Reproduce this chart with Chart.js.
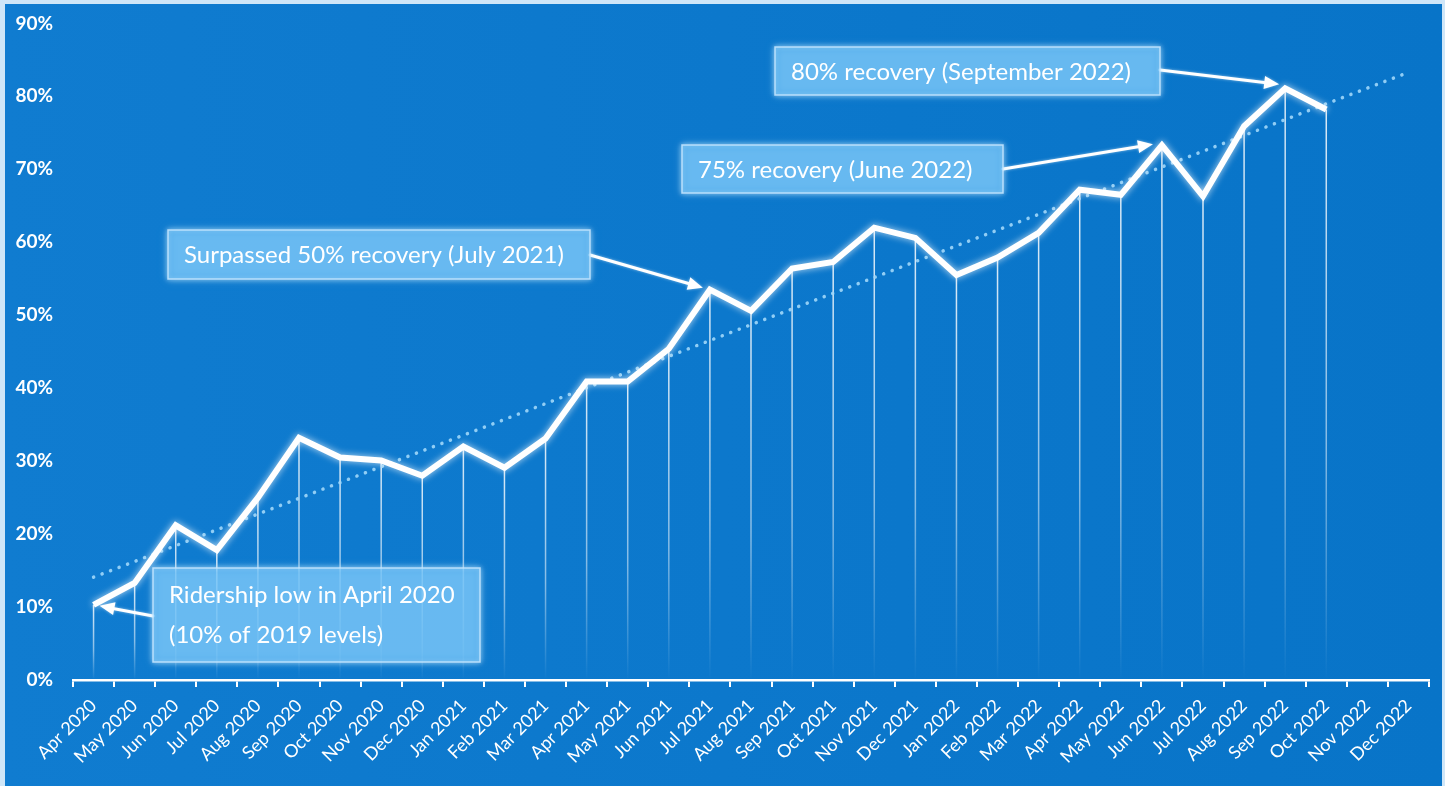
<!DOCTYPE html>
<html><head><meta charset="utf-8">
<script src="https://cdn.jsdelivr.net/npm/chart.js@4"></script>
<style>html,body{margin:0;padding:0;background:#0e7acd;overflow:hidden}</style>
</head><body>
<canvas id="c" width="1445" height="786" style="display:block;width:1445px;height:786px"></canvas>
<script>
// ---- data ----
const categories = ["Apr 2020","May 2020","Jun 2020","Jul 2020","Aug 2020","Sep 2020","Oct 2020","Nov 2020","Dec 2020",
  "Jan 2021","Feb 2021","Mar 2021","Apr 2021","May 2021","Jun 2021","Jul 2021","Aug 2021","Sep 2021","Oct 2021","Nov 2021","Dec 2021",
  "Jan 2022","Feb 2022","Mar 2022","Apr 2022","May 2022","Jun 2022","Jul 2022","Aug 2022","Sep 2022","Oct 2022","Nov 2022","Dec 2022"];
const ridership = [10.3,13.3,21.2,17.8,25.0,33.2,30.5,30.1,28.0,
  32.0,29.1,33.1,40.9,40.9,45.4,53.5,50.6,56.4,57.3,62.0,60.6,
  55.5,57.9,61.3,67.2,66.5,73.3,66.3,75.9,81.1,78.2,null,null];
const trendStart = 14.1;   // trend value read at Apr 2020
const trendEnd = 83.3;     // trend value read at Dec 2022
const trend = categories.map((c,i)=> i===0 ? trendStart : (i===categories.length-1 ? trendEnd : null));
const yTicks = [0,10,20,30,40,50,60,70,80,90];
const notes = [
  {lines:["Ridership low in April 2020","(10% of 2019 levels)"], at:"Apr 2020"},
  {lines:["Surpassed 50% recovery (July 2021)"], at:"Jul 2021"},
  {lines:["75% recovery (June 2022)"], at:"Jun 2022"},
  {lines:["80% recovery (September 2022)"], at:"Sep 2022"}
];
// ---- layout of annotation boxes (styling only) ----
const noteLayout = [
  {x:153,y:568,w:327,h:94, tx:169, ty:[595,635], from:[153,616], tipOff:[6,1]},
  {x:168,y:230,w:422,h:49, tx:184, ty:[255], from:[590,255], tipOff:[-7,-2]},
  {x:682,y:145,w:321,h:48, tx:698, ty:[170], from:[1003,169], tipOff:[-9,-1]},
  {x:775,y:47,w:385,h:48, tx:791, ty:[72], from:[1160,70], tipOff:[-6,-4]}
];
const FONT = 'Lato, "Open Sans", sans-serif';

const bgPlugin = {
  id:'bg',
  beforeDraw(chart){
    const ctx = chart.ctx;
    ctx.save();
    ctx.fillStyle = '#cfe6f8';
    ctx.fillRect(0,0,chart.width,chart.height);
    const g = ctx.createLinearGradient(0,0,chart.width,0);
    g.addColorStop(0,'rgb(16,124,208)');
    g.addColorStop(1,'rgb(8,116,200)');
    ctx.fillStyle = g;
    ctx.fillRect(5,4,chart.width-8,chart.height-4);
    ctx.restore();
  }
};

const dropPlugin = {
  id:'drops',
  beforeDatasetsDraw(chart){
    const ctx = chart.ctx, meta = chart.getDatasetMeta(0), bottom = chart.chartArea.bottom;
    ctx.save();
    meta.data.forEach((p,i)=>{
      if (ridership[i]==null) return;
      const g = ctx.createLinearGradient(0,p.y,0,bottom);
      g.addColorStop(0,'rgba(255,255,255,0.85)');
      g.addColorStop(0.6,'rgba(255,255,255,0.5)');
      g.addColorStop(1,'rgba(255,255,255,0.0)');
      ctx.strokeStyle = g;
      ctx.lineWidth = 1.5;
      ctx.beginPath();
      ctx.moveTo(p.x,p.y);
      ctx.lineTo(p.x,bottom-2);
      ctx.stroke();
    });
    ctx.restore();
  },
  beforeDatasetDraw(chart,args){
    if(args.index===0){
      chart.ctx.save();
      chart.ctx.shadowColor='rgba(255,255,255,0.75)';
      chart.ctx.shadowBlur=7;
    }
  },
  afterDatasetDraw(chart,args){
    if(args.index===0) chart.ctx.restore();
  }
};

function arrow(ctx, x1,y1,x2,y2){
  const ang = Math.atan2(y2-y1,x2-x1), L=15, W=6.5;
  const bx = x2 - L*Math.cos(ang), by = y2 - L*Math.sin(ang);
  ctx.beginPath(); ctx.moveTo(x1,y1); ctx.lineTo(bx,by); ctx.stroke();
  ctx.beginPath();
  ctx.moveTo(x2,y2);
  ctx.lineTo(bx + W*Math.sin(ang), by - W*Math.cos(ang));
  ctx.lineTo(bx - W*Math.sin(ang), by + W*Math.cos(ang));
  ctx.closePath(); ctx.fill();
}

const notePlugin = {
  id:'notes',
  afterDraw(chart){
    const ctx = chart.ctx, meta = chart.getDatasetMeta(0);
    ctx.save();
    notes.forEach((n,k)=>{
      const L = noteLayout[k];
      const idx = categories.indexOf(n.at);
      const p = meta.data[idx];
      ctx.strokeStyle='#ffffff'; ctx.fillStyle='#ffffff'; ctx.lineWidth=3; ctx.lineCap='round';
      ctx.shadowColor='rgba(255,255,255,0.5)'; ctx.shadowBlur=3;
      arrow(ctx, L.from[0], L.from[1], p.x+L.tipOff[0], p.y+L.tipOff[1]);
      ctx.shadowColor='rgba(200,235,255,0.9)'; ctx.shadowBlur=8;
      ctx.fillStyle='rgba(95,185,245,0.62)';
      ctx.fillRect(L.x,L.y,L.w,L.h);
      ctx.shadowBlur=4;
      ctx.strokeStyle='rgba(200,232,255,0.85)'; ctx.lineWidth=1.5;
      ctx.strokeRect(L.x,L.y,L.w,L.h);
      ctx.shadowBlur=0;
      ctx.fillStyle='#ffffff';
      ctx.font='24px '+FONT;
      ctx.textBaseline='middle'; ctx.textAlign='left';
      n.lines.forEach((t,j)=> ctx.fillText(t, L.tx, L.ty[j]));
    });
    ctx.restore();
  }
};

new Chart(document.getElementById('c'), {
  type:'line',
  data:{
    labels:categories,
    datasets:[
      {data:ridership, borderColor:'#ffffff', borderWidth:6, pointRadius:0, tension:0, borderJoinStyle:'miter', borderCapStyle:'butt', spanGaps:false},
      {data:trend, borderColor:'rgba(160,215,250,0.9)', borderWidth:3.5, borderDash:[0.1,9], borderCapStyle:'round', pointRadius:0, tension:0, spanGaps:true}
    ]
  },
  options:{
    responsive:false, animation:false, devicePixelRatio:1,
    layout:{padding:{top:15,right:16,left:0,bottom:0}},
    plugins:{legend:{display:false}, tooltip:{enabled:false}},
    scales:{
      x:{
        offset:true,
        grid:{display:true, drawOnChartArea:false, drawTicks:true, tickLength:7, color:'#ffffff', lineWidth:2, offset:true},
        border:{display:true, color:'#ffffff', width:2.5},
        ticks:{color:'#ffffff', font:{family:FONT, size:18}, maxRotation:45, minRotation:45, autoSkip:false, padding:8},
        afterFit(s){ s.height = 106; }
      },
      y:{
        min:0, max:90,
        afterBuildTicks(s){ s.ticks = yTicks.map(v=>({value:v})); },
        grid:{display:false},
        border:{display:false},
        ticks:{color:'#ffffff', font:{family:FONT, size:19, weight:'bold'}, padding:12, callback:v=>v+'%'},
        afterFit(s){ s.width = 73; }
      }
    }
  },
  plugins:[bgPlugin, dropPlugin, notePlugin]
});
</script>
</body></html>
